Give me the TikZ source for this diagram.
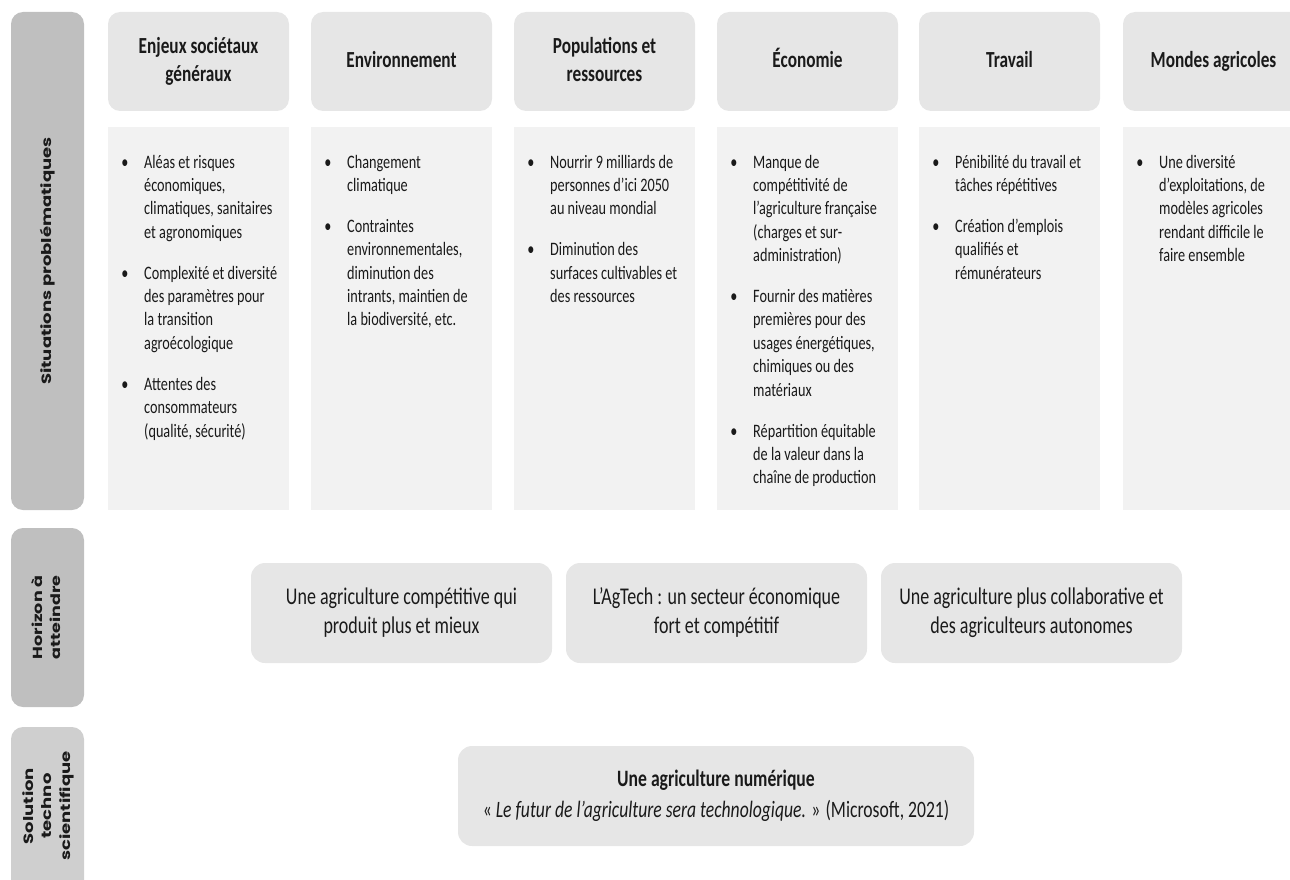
\documentclass[tikz,border=0pt]{standalone}
\usepackage{graphicx}
\usepackage{fontspec}
\setmainfont{Carlito}
\newfontfamily\sidefont{Poppins}
\definecolor{sidedark}{HTML}{BFBFBF}
\definecolor{sidelight}{HTML}{CFCFCF}
\definecolor{hdrgray}{HTML}{E6E6E6}
\definecolor{bodygray}{HTML}{F2F2F2}
\definecolor{ink}{HTML}{1A1A1A}
\newcommand\bl{\llap{•\hspace{21pt}}}
\newcommand\sqz[1]{\scalebox{0.75}[1]{#1}}
\newcommand\ctab[1]{\sqz{\begin{tabular}{@{}c@{}}#1\end{tabular}}}
\newcommand\ltab[1]{\sqz{\begin{tabular}[t]{@{}l@{}}#1\end{tabular}}}
\newcommand\vtab[1]{\scalebox{1}[0.75]{\begin{tabular}{@{}c@{}}#1\end{tabular}}}
\begin{document}
\begin{tikzpicture}[x=1pt,y=-1pt,
  hdrbox/.style={fill=hdrgray, rounded corners=12pt, inner sep=0pt, minimum width=181pt, minimum height=99pt, text=ink, font=\fontsize{23}{28}\selectfont\bfseries},
  bodybox/.style={fill=bodygray, inner sep=0pt, minimum width=181pt, minimum height=383pt},
  bodytxt/.style={anchor=base west, inner sep=0pt, text=ink, font=\fontsize{19}{23.4}\selectfont},
  hznbox/.style={fill=hdrgray, rounded corners=14pt, inner sep=0pt, minimum width=301pt, minimum height=100pt, text=ink, font=\fontsize{24}{29.5}\selectfont},
  solbox/.style={fill=hdrgray, rounded corners=14pt, inner sep=0pt, minimum width=516pt, minimum height=100pt, text=ink, font=\fontsize{23.5}{31}\selectfont},
  sidebar/.style={rounded corners=12pt, inner sep=0pt, minimum width=73pt},
  sidelbl/.style={rotate=90, inner sep=0pt, text=ink}
]
\clip (0,0) rectangle (1290,880);

% side bars
\node[sidebar, fill=sidedark, minimum height=498pt] (s1) at (47.5,261) {};
\node[sidebar, fill=sidedark, minimum height=179pt] (s2) at (47.5,617.5) {};
\node[sidebar, fill=sidelight, minimum height=179pt] (s3) at (47.5,816.5) {};
\node[sidelbl, font=\sidefont\bfseries\fontsize{18}{22}\selectfont] (l1) at (48,261) {\vtab{Situations problématiques}};
\node[sidelbl, font=\sidefont\bfseries\fontsize{17.5}{24.5}\selectfont] (l2) at (48,617.5) {\vtab{Horizon à\\atteindre}};
\node[sidelbl, font=\sidefont\bfseries\fontsize{18}{25}\selectfont] (l3) at (48,806) {\vtab{Solution\\techno\\scientifique}};

% headers
\node[hdrbox] (h1) at (198.5,61.5) {\ctab{Enjeux sociétaux\\généraux}};
\node[hdrbox] (h2) at (401.5,61.5) {\ctab{Environnement}};
\node[hdrbox] (h3) at (604.5,61.5) {\ctab{Populations et\\ressources}};
\node[hdrbox] (h4) at (807.5,61.5) {\ctab{Économie}};
\node[hdrbox] (h5) at (1009.5,61.5) {\ctab{Travail}};
\node[hdrbox] (h6) at (1213.5,61.5) {\ctab{Mondes agricoles}};

% body boxes
\node[bodybox] (b1) at (198.5,318.5) {};
\node[bodybox] (b2) at (401.5,318.5) {};
\node[bodybox] (b3) at (604.5,318.5) {};
\node[bodybox] (b4) at (807.5,318.5) {};
\node[bodybox] (b5) at (1009.5,318.5) {};
\node[bodybox] (b6) at (1213.5,318.5) {};

\node[bodytxt] (t1) at (144,168) {\ltab{\bl Aléas et risques\\ économiques,\\ climatiques, sanitaires\\ et agronomiques\\[17.5pt]
\bl Complexité et diversité\\ des paramètres pour\\ la transition\\ agroécologique\\[17.5pt]
\bl Attentes des\\ consommateurs\\ (qualité, sécurité)}};
\node[bodytxt] (t2) at (347,168) {\ltab{\bl Changement\\ climatique\\[17.5pt]
\bl Contraintes\\ environnementales,\\ diminution des\\ intrants, maintien de\\ la biodiversité, etc.}};
\node[bodytxt] (t3) at (550,168) {\ltab{\bl Nourrir 9 milliards de\\ personnes d’ici 2050\\ au niveau mondial\\[17.5pt]
\bl Diminution des\\ surfaces cultivables et\\ des ressources}};
\node[bodytxt] (t4) at (753,168) {\ltab{\bl Manque de\\ compétitivité de\\ l’agriculture française\\ (charges et sur-\\ administration)\\[17.5pt]
\bl Fournir des matières\\ premières pour des\\ usages énergétiques,\\ chimiques ou des\\ matériaux\\[17.5pt]
\bl Répartition équitable\\ de la valeur dans la\\ chaîne de production}};
\node[bodytxt] (t5) at (955,168) {\ltab{\bl Pénibilité du travail et\\ tâches répétitives\\[17.5pt]
\bl Création d’emplois\\ qualifiés et\\ rémunérateurs}};
\node[bodytxt] (t6) at (1159,168) {\ltab{\bl Une diversité\\ d’exploitations, de\\ modèles agricoles\\ rendant difficile le\\ faire ensemble}};

% horizon
\node[hznbox] (z1) at (401.5,613) {\ctab{Une agriculture compétitive qui\\produit plus et mieux}};
\node[hznbox] (z2) at (716.5,613) {\ctab{L’AgTech : un secteur économique\\fort et compétitif}};
\node[hznbox] (z3) at (1031.5,613) {\ctab{Une agriculture plus collaborative et\\des agriculteurs autonomes}};

% solution
\node[solbox] (sol) at (716,796) {\ctab{\textbf{Une agriculture numérique}\\« \textit{Le futur de l’agriculture sera technologique.} » (Microsoft, 2021)}};
\end{tikzpicture}
\end{document}
